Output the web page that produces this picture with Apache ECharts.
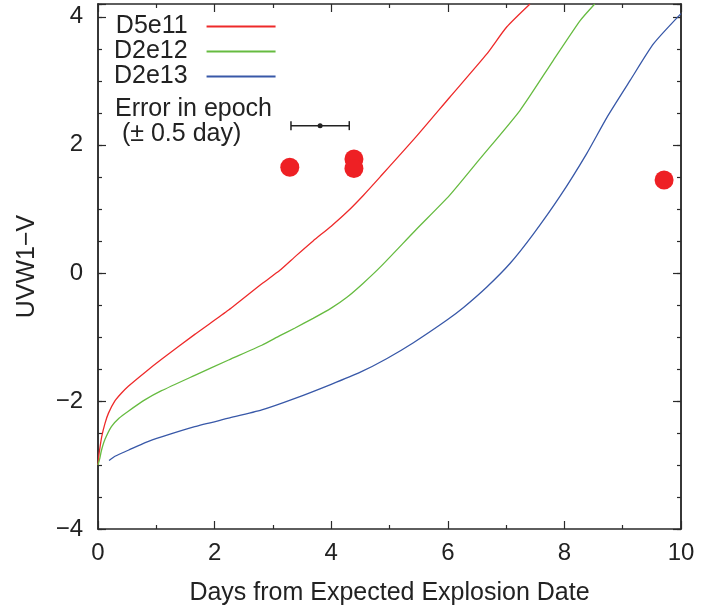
<!DOCTYPE html>
<html>
<head>
<meta charset="utf-8">
<script src="https://cdn.jsdelivr.net/npm/echarts@6/dist/echarts.min.js"></script>
<style>
html,body{margin:0;padding:0;background:#fff;}
#chart{width:701px;height:615px;}
</style>
</head>
<body>
<div id="chart"></div>
<script>
// ---- data ----
var seriesNames = ['D5e11', 'D2e12', 'D2e13'];
var d5e11 = [[0,-3.0],[0.015,-2.85],[0.03,-2.75],[0.063,-2.56],[0.12,-2.35],[0.18,-2.19],[0.29,-2.0],[0.4,-1.88],[0.52,-1.77],[0.81,-1.55],[1.09,-1.35],[1.66,-0.96],[2.24,-0.58],[2.81,-0.17],[3.12,0.04],[3.4,0.27],[3.69,0.50],[4.0,0.73],[4.27,0.95],[4.55,1.21],[4.84,1.50],[5.45,2.12],[6.03,2.74],[6.67,3.42],[7.01,3.84],[7.41,4.20]];
var d2e12 = [[0,-3.0],[0.015,-2.95],[0.03,-2.9],[0.06,-2.77],[0.12,-2.6],[0.23,-2.40],[0.36,-2.27],[0.52,-2.16],[0.81,-1.98],[1.09,-1.84],[1.66,-1.60],[2.24,-1.36],[2.81,-1.13],[3.12,-0.98],[3.38,-0.86],[3.69,-0.71],[4.0,-0.55],[4.27,-0.38],[4.55,-0.16],[4.84,0.09],[5.45,0.67],[6.03,1.21],[6.55,1.78],[7.24,2.54],[7.81,3.32],[8.27,3.94],[8.52,4.20]];
var d2e13 = [[0.19,-2.93],[0.3,-2.86],[0.52,-2.77],[0.81,-2.65],[1.09,-2.56],[1.66,-2.40],[2.24,-2.27],[2.81,-2.14],[3.38,-1.96],[4.0,-1.74],[4.5,-1.55],[4.95,-1.34],[5.41,-1.09],[5.98,-0.74],[6.27,-0.54],[6.67,-0.22],[7.07,0.15],[7.47,0.61],[7.92,1.19],[8.38,1.86],[8.73,2.43],[9.13,3.01],[9.53,3.58],[10.0,4.05]];
var observed = [[3.29,1.65],[4.39,1.78],[4.39,1.63],[9.71,1.45]];
var epochError = [[3.81, 2.30, 0.5]]; // x, y, half-width (days)
var xTicks = [0, 2, 4, 6, 8, 10];
var yTicks = [-4, -2, 0, 2, 4];
var xTitle = 'Days from Expected Explosion Date';
var yTitle = 'UVW1\u2212V';
var noteText = 'Error in epoch\n (\u00b1 0.5 day)';

// ---- chart ----
var FONT = '"Liberation Sans", Arial, Helvetica, sans-serif';
var TXT = '#222';
var AX = '#2a2a2a';
var chart = echarts.init(document.getElementById('chart'), null, {renderer: 'canvas'});

function fmtX(v) {
  if (xTicks.indexOf(v) < 0) return '';
  return String(v);
}
function fmtY(v) {
  if (yTicks.indexOf(v) < 0) return '';
  return v < 0 ? '\u2212' + Math.abs(v) : String(v);
}
function axisLineStyle() { return {show: true, onZero: false, lineStyle: {color: AX, width: 1.5}}; }

function xAxisDef(pos, labels) {
  return {
    type: 'value', position: pos, min: 0, max: 10, interval: 2,
    axisLine: axisLineStyle(),
    axisTick: {show: true, inside: true, length: 8, lineStyle: {color: AX, width: 1.2}},
    minorTick: {show: true, splitNumber: 2, length: 4, lineStyle: {color: AX, width: 1.2}},
    splitLine: {show: false},
    axisLabel: labels ? {show: true, formatter: fmtX, fontSize: 24, color: TXT, fontFamily: FONT, margin: 12} : {show: false},
    name: labels ? xTitle : '',
    nameLocation: 'middle', nameGap: 52,
    nameTextStyle: {fontSize: 25, color: TXT, fontFamily: FONT}
  };
}
function yAxisDef(pos, major, labels) {
  return {
    type: 'value', position: pos, min: -4, max: 4.2, interval: major ? 2 : 0.5,
    axisLine: axisLineStyle(),
    axisTick: {show: true, inside: true, length: major ? 8 : 4, lineStyle: {color: AX, width: 1.2}},
    splitLine: {show: false},
    axisLabel: labels ? {show: true, formatter: fmtY, fontSize: 24, color: TXT, fontFamily: FONT, margin: 15} : {show: false},
    name: labels ? yTitle : '',
    nameLocation: 'middle', nameGap: 58,
    nameTextStyle: {fontSize: 25, color: TXT, fontFamily: FONT}
  };
}

var lineCommon = {type: 'line', symbol: 'none', smooth: 0.2};

var option = {
  animation: false,
  backgroundColor: '#fff',
  grid: {left: 98, right: 20, top: 4, bottom: 86, containLabel: false},
  title: {
    text: noteText, left: 115, top: 97, padding: 0,
    textStyle: {fontSize: 25, fontWeight: 'normal', color: TXT, fontFamily: FONT, lineHeight: 25}
  },
  legend: {
    data: seriesNames, orient: 'vertical', left: 114, top: 14, padding: 0,
    align: 'right', itemWidth: 69, itemHeight: 14, itemGap: 0,
    formatter: function (n) { return n + '  '; },
    itemStyle: {opacity: 0},
    textStyle: {fontSize: 25, color: TXT, fontFamily: FONT, lineHeight: 25}
  },
  xAxis: [xAxisDef('bottom', true), xAxisDef('top', false)],
  yAxis: [yAxisDef('left', true, true), yAxisDef('left', false, false), yAxisDef('right', true, false), yAxisDef('right', false, false)],
  series: [
    Object.assign({name: seriesNames[0], data: d5e11, lineStyle: {color: '#ee2a2a', width: 1.3}, itemStyle: {color: '#ee2a2a'}}, lineCommon),
    Object.assign({name: seriesNames[1], data: d2e12, lineStyle: {color: '#66bb40', width: 1.3}, itemStyle: {color: '#66bb40'}}, lineCommon),
    Object.assign({name: seriesNames[2], data: d2e13, lineStyle: {color: '#3858a8', width: 1.3}, itemStyle: {color: '#3858a8'}}, lineCommon),
    {name: 'obs', type: 'scatter', data: observed, symbol: 'circle', symbolSize: 19, itemStyle: {color: '#ee2024', opacity: 1}, z: 5},
    {
      name: 'err', type: 'custom', data: epochError, z: 6,
      renderItem: function (params, api) {
        var x = api.value(0), y = api.value(1), e = api.value(2);
        var c = api.coord([x, y]), l = api.coord([x - e, y]), r = api.coord([x + e, y]);
        var st = {stroke: '#222', lineWidth: 1.5};
        return {type: 'group', children: [
          {type: 'line', shape: {x1: l[0], y1: l[1], x2: r[0], y2: r[1]}, style: st},
          {type: 'line', shape: {x1: l[0], y1: l[1] - 4.5, x2: l[0], y2: l[1] + 4.5}, style: st},
          {type: 'line', shape: {x1: r[0], y1: r[1] - 4.5, x2: r[0], y2: r[1] + 4.5}, style: st},
          {type: 'circle', shape: {cx: c[0], cy: c[1], r: 2.5}, style: {fill: '#222'}}
        ]};
      }
    }
  ]
};
chart.setOption(option);
</script>
</body>
</html>
